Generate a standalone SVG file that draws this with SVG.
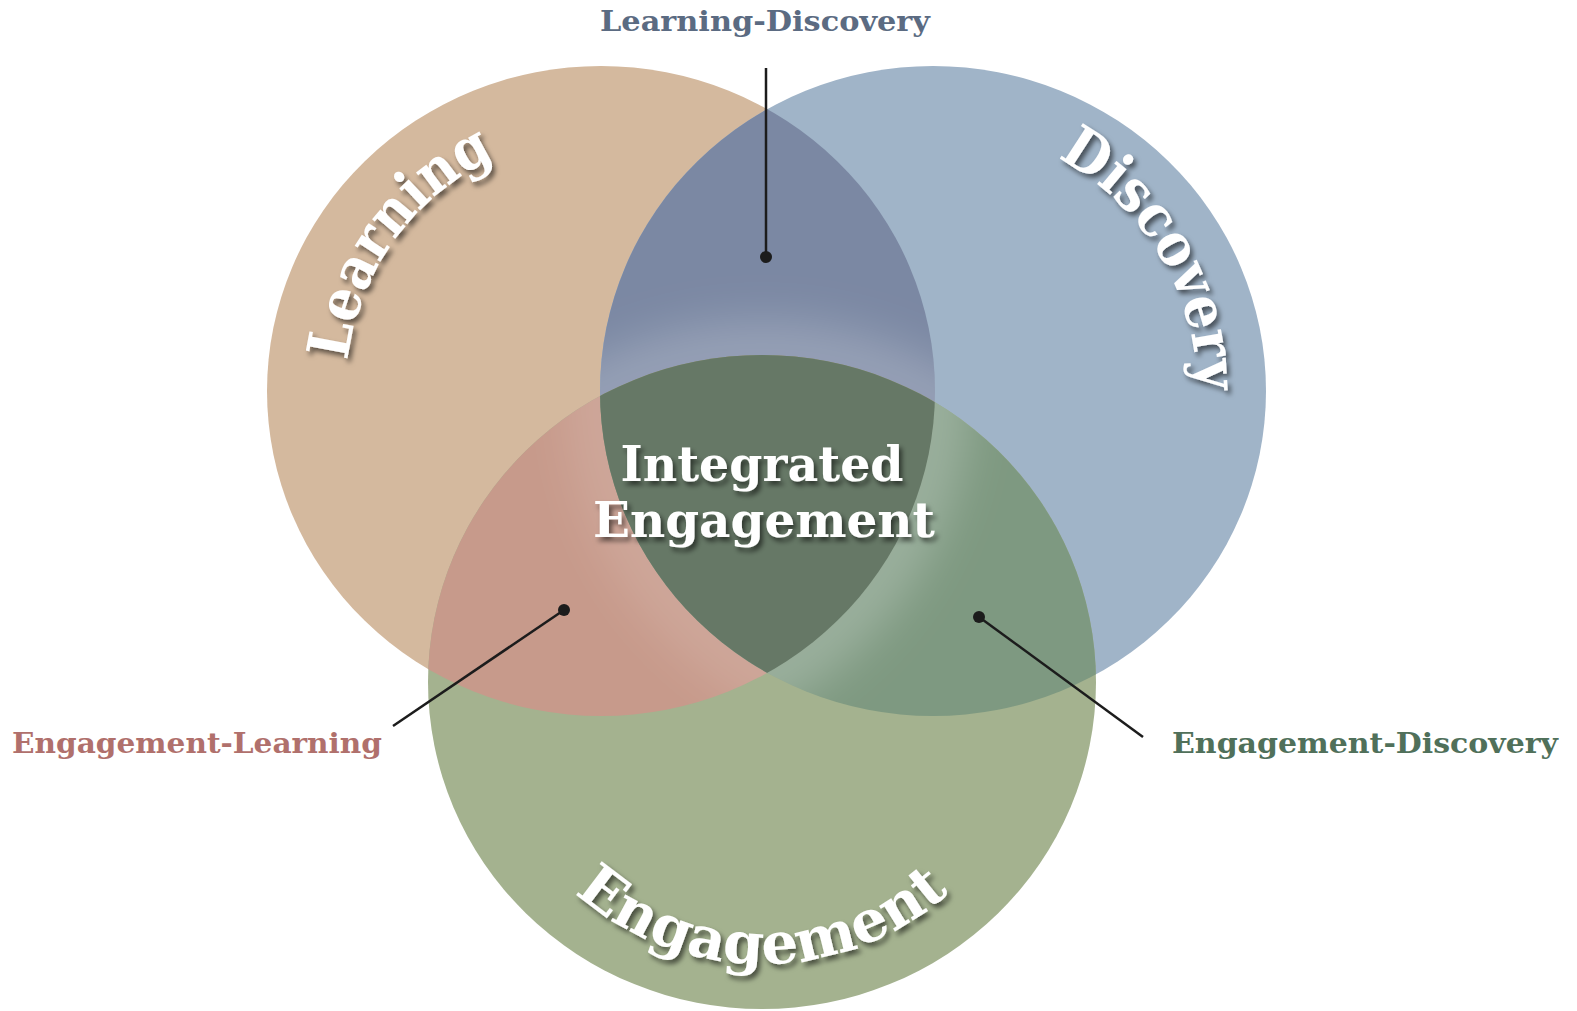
<svg xmlns="http://www.w3.org/2000/svg" width="1577" height="1011" viewBox="0 0 1577 1011">
<style>
.big{font-family:"DejaVu Serif","Liberation Serif",serif;font-weight:bold;fill:#ffffff;filter:url(#shadow);}
.lbl{font-family:"DejaVu Serif","Liberation Serif",serif;font-weight:bold;}
.conn{stroke:#1c1c1c;stroke-width:2.5;fill:none;}
.dot{fill:#1c1c1c;}
.glow{fill:none;stroke:#ffffff;stroke-width:70;filter:url(#blur);}
</style>
<defs>
<filter id="shadow" x="-20%" y="-20%" width="140%" height="140%">
<feDropShadow dx="3" dy="4" stdDeviation="2.5" flood-color="#000" flood-opacity="0.55"/>
</filter>
<filter id="blur" x="-20%" y="-20%" width="140%" height="140%">
<feGaussianBlur stdDeviation="22"/>
</filter>
<clipPath id="clipL"><ellipse cx="601" cy="391" rx="334" ry="325"/></clipPath>
<clipPath id="clipD"><ellipse cx="933" cy="391" rx="333" ry="325"/></clipPath>
<clipPath id="clipE"><ellipse cx="762" cy="682" rx="334" ry="327"/></clipPath>
<path id="arcL" d="M 368.1 493.7 A 255 255 0 0 1 627.7 136.4"/>
<path id="arcD" d="M 928.4 127 A 264 264 0 0 1 1163.9 519"/>
<path id="arcE" d="M 517.8 823 A 282 282 0 0 0 1006.2 823"/>
</defs>
<rect width="1577" height="1011" fill="#ffffff"/>

<g id="node-learning">
<ellipse cx="601" cy="391" rx="334" ry="325" fill="#d4b99e"/>
</g>
<g id="node-discovery">
<ellipse cx="933" cy="391" rx="333" ry="325" fill="#a0b4c8"/>
</g>
<g id="node-engagement">
<ellipse cx="762" cy="682" rx="334" ry="327" fill="#a4b28f"/>
</g>
<g id="node-learning-discovery">
<ellipse cx="933" cy="391" rx="333" ry="325" fill="#7b88a3" clip-path="url(#clipL)"/>
<g clip-path="url(#clipL)"><g clip-path="url(#clipD)">
<ellipse class="glow" cx="762" cy="682" rx="334" ry="327" stroke-opacity="0.2"/>
</g></g>
<text class="lbl" x="765" y="31" font-size="27" text-anchor="middle" fill="#5b6b82" textLength="330" lengthAdjust="spacingAndGlyphs">Learning-Discovery</text>
</g>
<g id="node-engagement-learning">
<ellipse cx="762" cy="682" rx="334" ry="327" fill="#c79a8b" clip-path="url(#clipL)"/>
<g clip-path="url(#clipL)"><g clip-path="url(#clipE)">
<ellipse class="glow" cx="933" cy="391" rx="333" ry="325" stroke-opacity="0.12"/>
</g></g>
<text class="lbl" x="12" y="753" font-size="28" fill="#b0706c" textLength="370" lengthAdjust="spacingAndGlyphs">Engagement-Learning</text>
</g>
<g id="node-engagement-discovery">
<ellipse cx="762" cy="682" rx="334" ry="327" fill="#7e9981" clip-path="url(#clipD)"/>
<g clip-path="url(#clipD)"><g clip-path="url(#clipE)">
<ellipse class="glow" cx="601" cy="391" rx="334" ry="325" stroke-opacity="0.22"/>
</g></g>
<text class="lbl" x="1172" y="753" font-size="28" fill="#50705a" textLength="386" lengthAdjust="spacingAndGlyphs">Engagement-Discovery</text>
</g>
<g id="node-integrated">
<g clip-path="url(#clipD)"><g clip-path="url(#clipL)">
<ellipse cx="762" cy="682" rx="334" ry="327" fill="#667866"/>
</g></g>
<text class="big" x="762" y="481" font-size="48" text-anchor="middle" textLength="283" lengthAdjust="spacingAndGlyphs">Integrated</text>
<text class="big" x="764" y="537" font-size="48" text-anchor="middle" textLength="342" lengthAdjust="spacingAndGlyphs">Engagement</text>
</g>
<g id="labels-circles">
<text class="big" font-size="58"><textPath href="#arcL" startOffset="50%" text-anchor="middle" textLength="262" lengthAdjust="spacingAndGlyphs">Learning</textPath></text>
<text class="big" font-size="58"><textPath href="#arcD" startOffset="50%" text-anchor="middle" textLength="285" lengthAdjust="spacingAndGlyphs">Discovery</textPath></text>
<text class="big" font-size="58"><textPath href="#arcE" startOffset="50%" text-anchor="middle" textLength="410" lengthAdjust="spacingAndGlyphs">Engagement</textPath></text>
</g>
<g id="connectors">
<line class="conn" x1="766" y1="68" x2="766" y2="257"/>
<circle class="dot" cx="766" cy="257" r="6"/>
<line class="conn" x1="564" y1="610" x2="393" y2="726"/>
<circle class="dot" cx="564" cy="610" r="6"/>
<line class="conn" x1="979" y1="617" x2="1143" y2="737"/>
<circle class="dot" cx="979" cy="617" r="6"/>
</g>
</svg>
